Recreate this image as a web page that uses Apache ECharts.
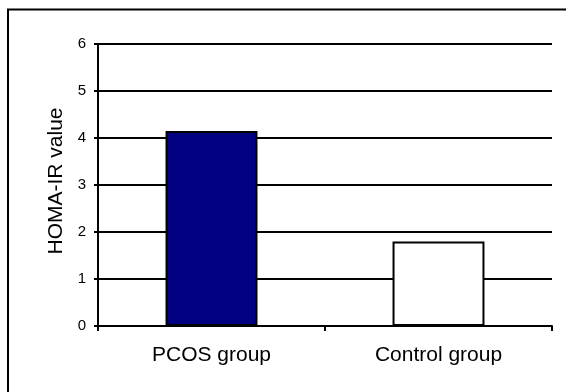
<!DOCTYPE html>
<html>
<head>
<meta charset="utf-8">
<script src="https://cdn.jsdelivr.net/npm/echarts@6/dist/echarts.min.js"></script>
<style>
  html, body { margin: 0; padding: 0; background: #fff; }
  #chart { width: 566px; height: 392px; }
</style>
</head>
<body>
<div id="chart"></div>
<script>
// HOMA-IR by study group
const categories = ['PCOS group', 'Control group'];
const homaValues = [4.15, 1.80];
const barColors = ['#000080', '#ffffff'];
const yTicks = [0, 1, 2, 3, 4, 5, 6];

const chart = echarts.init(document.getElementById('chart'), null, { renderer: 'canvas' });

const font = '"Liberation Sans", Arial, sans-serif';

chart.setOption({
  backgroundColor: '#ffffff',
  animation: false,
  graphic: [{
    type: 'rect',
    shape: { x: 8, y: 9.5, width: 620, height: 420 },
    style: { fill: 'none', stroke: '#000', lineWidth: 2 },
    z: 100
  }],
  grid: { left: 98, right: 14, top: 44, bottom: 66 },
  xAxis: {
    type: 'category',
    data: categories,
    boundaryGap: true,
    axisLine: { lineStyle: { color: '#000', width: 2 } },
    axisTick: { show: true, length: 5, lineStyle: { color: '#000', width: 2 } },
    axisLabel: { color: '#000', fontFamily: font, fontSize: 21, margin: 19 },
    splitLine: { show: false }
  },
  yAxis: {
    type: 'value',
    min: yTicks[0],
    max: yTicks[yTicks.length - 1],
    interval: 1,
    name: 'HOMA-IR value',
    nameLocation: 'middle',
    nameGap: 27,
    nameTextStyle: { color: '#000', fontFamily: font, fontSize: 21, padding: [0, 0, 0, 8] },
    axisLine: { show: true, lineStyle: { color: '#000', width: 2 } },
    axisTick: { show: true, length: 4, lineStyle: { color: '#000', width: 2 } },
    axisLabel: { color: '#000', fontFamily: font, fontSize: 15, margin: 12 },
    splitLine: { show: true, lineStyle: { color: '#000', width: 2 } }
  },
  series: [{
    type: 'bar',
    barWidth: '40.5%',
    data: homaValues.map((v, i) => ({
      value: v,
      itemStyle: { color: barColors[i], borderColor: '#000', borderWidth: 2 }
    })),
    z: 3
  }]
});
</script>
</body>
</html>
